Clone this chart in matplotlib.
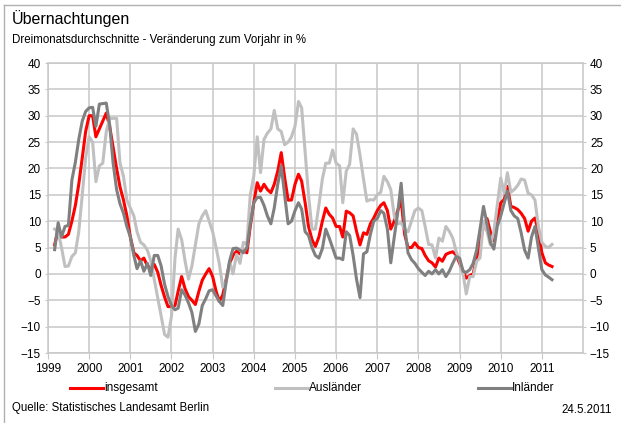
import numpy as np
import pandas as pd
import matplotlib
matplotlib.use("Agg")
import matplotlib.pyplot as plt
import matplotlib.dates as mdates
from matplotlib.lines import Line2D

plt.rcParams["font.family"] = ["Liberation Sans", "DejaVu Sans"]

# Monthly values, March 1999 to April 2011 (change vs. previous year, %)
months = pd.date_range("1999-03-01", "2011-04-01", freq="MS")

insgesamt = [
    5.5, 8.5, 7, 7, 7.5, 10, 13, 17, 22, 27,                          # 1999
    30, 30, 26, 27.5, 29, 30.5, 28, 24, 20, 16.5, 14, 11,              # 2000
    7, 4, 3.5, 2.5, 3, 1.5, 1.2, 1.8, 0.3, -2.2, -4.4, -6.2,           # 2001
    -6.2, -6, -3.3, -0.5, -2.8, -4.3, -5, -5.8, -3.3, -1.2, 0, 1,      # 2002
    -0.5, -3.3, -5.2, -4, -1, 2, 3.5, 4.3, 3.8, 4.5, 4, 9,             # 2003
    13.5, 17.3, 15.7, 17, 16, 15.4, 17, 19.5, 23, 18.3, 14, 14,        # 2004
    17, 18.9, 17.6, 13.5, 9, 6.5, 5.2, 7, 10, 12.5, 11.3, 10.6,        # 2005
    9, 9, 7, 11.9, 11.6, 11, 8.1, 5.5, 7.8, 7.5, 9.5, 10.6,            # 2006
    12, 13, 13.5, 12, 8.5, 10, 12, 14, 7.5, 5, 5, 5.9,                 # 2007
    5, 4.8, 3.5, 2.5, 2.1, 1.3, 3, 2.4, 3.7, 4, 4.2, 3.6,              # 2008
    2, 0.5, -0.8, -0.3, 0, 3, 6, 9, 10.5, 8, 6.3, 10,                  # 2009
    13.5, 14.1, 16.6, 12.8, 12.6, 12.2, 11.5, 10.5, 8.1, 10, 10.6, 8,  # 2010
    4, 2.1, 1.7, 1.4,                                                  # 2011
]

auslaender = [
    8.5, 8, 5, 1.4, 1.5, 3.3, 4, 8, 15, 22,
    26, 25, 17.5, 20.5, 21, 27, 29.5, 29.5, 29.5, 21, 18.5, 14,
    12.5, 11, 8, 6, 5.5, 4.5, 2.5, -1, -4.5, -8, -11.5, -12,
    -8, 3, 8.5, 6.5, 2.5, -1, 1.5, 5.5, 9.5, 11, 12, 10,
    8, 5, 2, -2.5, -1.5, 2.4, 0, 3.7, 2, 6, 5.6, 15,
    18.5, 26, 19.2, 25.5, 26.7, 27.5, 31, 27.5, 27, 24.5, 25, 26,
    28, 32.7, 31.5, 23, 15, 8.5, 8.5, 13, 18, 21, 21, 23.5,
    21, 20.5, 13.5, 19.5, 20.8, 27.5, 26.5, 22.5, 18, 13.8, 14.1, 14,
    15, 15.5, 18.5, 17.5, 16, 11, 9.5, 9.7, 8.5, 8, 10, 12,
    12.5, 12, 9, 5.6, 5.5, 3, 6.8, 6.2, 9, 8.1, 6.8, 4.3,
    2.5, 0, -3.8, -0.5, -0.5, 2.4, 3, 10, 8, 5.5, 8, 13,
    18.2, 15.3, 19.2, 15.5, 16, 16.8, 18, 17.8, 15.3, 15, 14, 9,
    6, 5.2, 5, 5.6,
]

inlaender = [
    4.6, 9.7, 7, 9, 9.2, 17.8, 21.2, 25.5, 29, 30.8,
    31.5, 31.6, 28, 32.2, 32.3, 32.4, 28.3, 21, 16, 13.3, 11.5, 9,
    7, 3.5, 1, 2.5, 0.5, 2, -0.3, 3.5, 3.5, 1.5, -2, -4.3,
    -6, -6.8, -6.5, -3, -4, -5.5, -7.3, -10.9, -9.5, -6, -4.7, -3.2,
    -3, -4.2, -5.2, -6, -1.5, 2.5, 4.8, 4.9, 4.5, 4, 5, 9.5,
    13.5, 14.5, 14.5, 13, 11, 9.5, 12.5, 17, 20.5, 15, 9.5, 10,
    12, 13.5, 12.3, 8, 7.3, 5, 3.5, 3, 4.8, 8.5, 6.8, 4.9,
    3, 3, 2.7, 8, 7.3, 3.5, -1, -4.5, 3.8, 4.2, 7.5, 10,
    10.5, 12, 11.5, 8.5, 2.1, 7, 11.5, 17.2, 9, 4, 2.7, 2,
    1, 0.3, -0.3, 0.5, 0, 0.8, 0, 0.8, -0.5, 0.5, 2, 3.3,
    3, 0.5, 0.3, 0.8, 2, 4.5, 8.5, 12.8, 9.5, 6, 4.7, 9,
    11, 13.5, 15.7, 12, 11, 10.5, 7.8, 4.5, 3, 7, 9, 5,
    0.8, -0.2, -0.6, -1.1,
]

series = [
    ("insgesamt", insgesamt, "#ff0000"),
    ("Ausländer", auslaender, "#c0c0c0"),
    ("Inländer", inlaender, "#808080"),
]

W, H = 621, 423
fig = plt.figure(figsize=(W / 100, H / 100), dpi=100)
ax = fig.add_axes([48 / W, 1 - 353 / H, (583 - 48) / W, (353 - 63) / H])

for i, (name, values, color) in enumerate(series):
    ax.plot(months, values, color=color, lw=2.2, zorder=2 + i,
            solid_joinstyle="round")

grid_c = "#c8c8c8"
ax.set_ylim(-15, 40)
ax.set_yticks(np.arange(-15, 41, 5))
ax.set_xlim(pd.Timestamp("1999-01-01"), pd.Timestamp("2012-01-01"))
years = pd.date_range("1999-01-01", "2011-01-01", freq="YS")
ax.set_xticks(years)
ax.xaxis.set_major_formatter(mdates.DateFormatter("%Y"))
ax.grid(True, color=grid_c, lw=1.1)
ax.set_axisbelow(True)
for sp in ax.spines.values():
    sp.set_color(grid_c)
    sp.set_linewidth(1.1)

ax.tick_params(axis="y", which="both", left=True, right=True,
               labelleft=True, labelright=True, length=2, color=grid_c,
               labelsize=8.5, pad=3, labelcolor="#000000")
ax.tick_params(axis="x", length=4, color=grid_c, labelsize=8.5, pad=3)
for lbl in ax.get_yticklabels(which="both"):
    pass

# titles
fig.text(12 / W, 1 - 19 / H, "Übernachtungen", fontsize=11.5, va="center")
fig.text(12 / W, 1 - 40 / H,
         "Dreimonatsdurchschnitte - Veränderung zum Vorjahr in %",
         fontsize=8.3, va="center")

# legend row
legend_x = [70, 275, 478]
for (name, values, color), lx in zip(series, legend_x):
    fig.add_artist(Line2D([lx / W, (lx + 33) / W], [1 - 388 / H] * 2,
                          color=color, lw=2.2, transform=fig.transFigure))
    fig.text((lx + 34) / W, 1 - 388 / H, name, fontsize=8.5, va="center")

fig.text(12 / W, 1 - 408 / H, "Quelle: Statistisches Landesamt Berlin",
         fontsize=8.3, va="center")
fig.text(612 / W, 1 - 410 / H, "24.5.2011", fontsize=8.3, va="center",
         ha="right")

# outer frame (left and top edges)
frame_c = "#b0b0b0"
fig.add_artist(Line2D([4 / W, 4 / W], [0, 1 - 5 / H], color=frame_c, lw=1,
                      transform=fig.transFigure))
fig.add_artist(Line2D([4 / W, 1], [1 - 5 / H, 1 - 5 / H], color=frame_c,
                      lw=1, transform=fig.transFigure))

fig.savefig("out.png", dpi=100)
